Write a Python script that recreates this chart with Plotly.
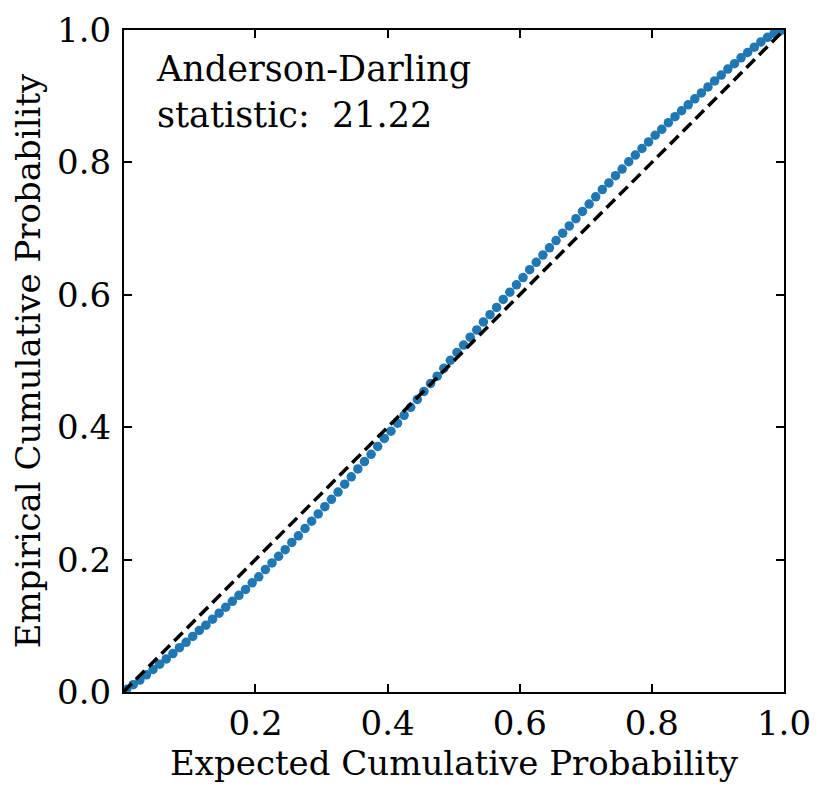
import plotly.graph_objects as go

expected = [0.005, 0.015, 0.025, 0.035, 0.045, 0.055, 0.065, 0.075, 0.085, 0.095,
            0.105, 0.115, 0.125, 0.135, 0.145, 0.155, 0.165, 0.175, 0.185, 0.195,
            0.205, 0.215, 0.225, 0.235, 0.245, 0.255, 0.265, 0.275, 0.285, 0.295,
            0.305, 0.315, 0.325, 0.335, 0.345, 0.355, 0.365, 0.375, 0.385, 0.395,
            0.405, 0.415, 0.425, 0.435, 0.445, 0.455, 0.465, 0.475, 0.485, 0.495,
            0.505, 0.515, 0.525, 0.535, 0.545, 0.555, 0.565, 0.575, 0.585, 0.595,
            0.605, 0.615, 0.625, 0.635, 0.645, 0.655, 0.665, 0.675, 0.685, 0.695,
            0.705, 0.715, 0.725, 0.735, 0.745, 0.755, 0.765, 0.775, 0.785, 0.795,
            0.805, 0.815, 0.825, 0.835, 0.845, 0.855, 0.865, 0.875, 0.885, 0.895,
            0.905, 0.915, 0.925, 0.935, 0.945, 0.955, 0.965, 0.975, 0.985, 0.995]

empirical = [0.004, 0.011, 0.018, 0.026, 0.034, 0.042, 0.050, 0.058, 0.067, 0.075,
             0.084, 0.093, 0.101, 0.110, 0.119, 0.128, 0.137, 0.146, 0.155, 0.165,
             0.174, 0.185, 0.195, 0.205, 0.215, 0.226, 0.236, 0.247, 0.258, 0.269,
             0.280, 0.291, 0.302, 0.314, 0.325, 0.337, 0.348, 0.359, 0.371, 0.383,
             0.394, 0.406, 0.418, 0.430, 0.442, 0.454, 0.466, 0.477, 0.489, 0.501,
             0.513, 0.524, 0.536, 0.547, 0.559, 0.570, 0.581, 0.593, 0.604, 0.615,
             0.626, 0.638, 0.649, 0.660, 0.671, 0.682, 0.693, 0.704, 0.715, 0.726,
             0.737, 0.748, 0.759, 0.769, 0.780, 0.790, 0.801, 0.811, 0.821, 0.831,
             0.841, 0.850, 0.860, 0.869, 0.878, 0.887, 0.896, 0.905, 0.914, 0.923,
             0.932, 0.941, 0.949, 0.958, 0.966, 0.974, 0.982, 0.989, 0.995, 0.999]

ref_line = [0.0, 1.0]
x_ticks = [0.2, 0.4, 0.6, 0.8, 1.0]
y_ticks = [0.0, 0.2, 0.4, 0.6, 0.8, 1.0]
ad_stat = 21.22
x_title = "Expected Cumulative Probability"
y_title = "Empirical Cumulative Probability"

FONT = "DejaVu Serif"
FS = 34

fig = go.Figure()
fig.add_trace(go.Scatter(x=expected, y=empirical, mode="markers",
                         marker=dict(color="#1f77b4", size=9.5, line=dict(width=0)),
                         showlegend=False))
fig.add_trace(go.Scatter(x=ref_line, y=ref_line, mode="lines",
                         line=dict(color="black", width=3.5, dash="12px,6px"),
                         showlegend=False))

axis_common = dict(showline=True, linecolor="black", linewidth=2, mirror="ticks",
                   ticks="inside", ticklen=8, tickwidth=2, tickcolor="black",
                   showgrid=False, zeroline=False, automargin=False,
                   tickfont=dict(family=FONT, size=FS, color="black"))

fig.update_xaxes(range=[0.001, 1.0], tickvals=x_ticks,
                 ticktext=[f"{v:.1f}" for v in x_ticks],
                 **axis_common)
fig.update_yaxes(range=[0.0, 1.0], tickvals=y_ticks,
                 ticktext=[f"{v:.1f}" for v in y_ticks],
                 ticklabelstandoff=4,
                 title=dict(text=y_title,
                            font=dict(family=FONT, size=FS, color="black"), standoff=10),
                 **axis_common)

fig.add_annotation(x=0.5, y=-0.108, xref="paper", yref="paper",
                   xanchor="center", yanchor="middle", showarrow=False,
                   text=x_title, font=dict(family=FONT, size=FS, color="black"))

fig.add_annotation(x=0.045, y=0.975, xref="paper", yref="paper",
                   xanchor="left", yanchor="top", align="left", showarrow=False,
                   text=f"Anderson-Darling<br>statistic:\u00a0 {ad_stat:.2f}",
                   font=dict(family=FONT, size=35, color="black"))

fig.update_layout(width=821, height=786, plot_bgcolor="white", paper_bgcolor="white",
                  margin=dict(l=116, r=45, t=22, b=102, autoexpand=False))

fig.write_html("out.html")
